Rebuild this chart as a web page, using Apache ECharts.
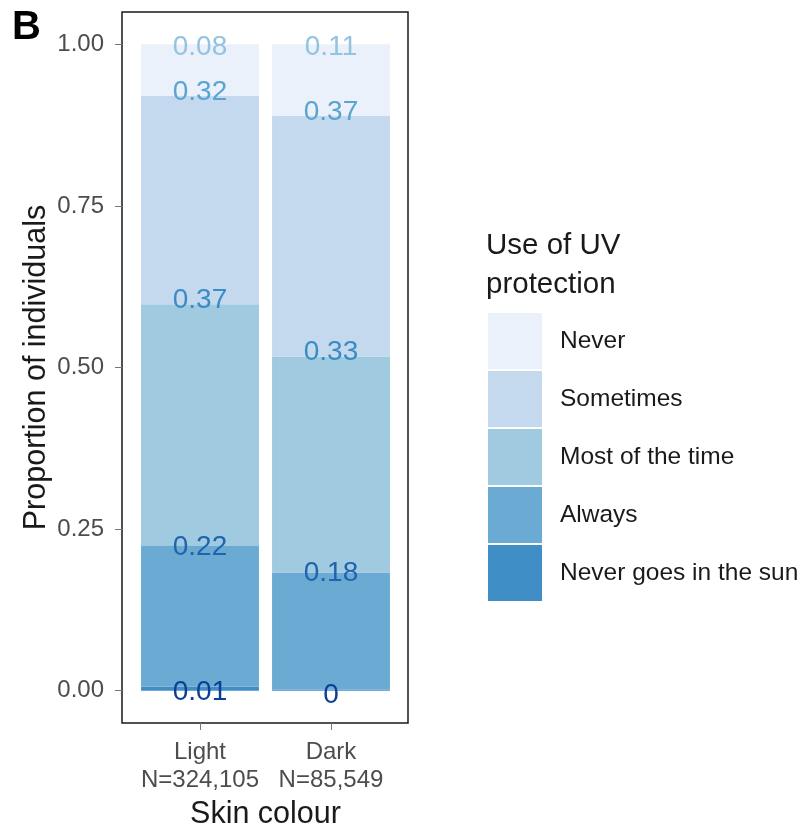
<!DOCTYPE html>
<html>
<head>
<meta charset="utf-8">
<script src="https://cdn.jsdelivr.net/npm/echarts@6/dist/echarts.min.js"></script>
<style>
html,body{margin:0;padding:0;background:#fff;}
#chart{width:801px;height:828px;}
</style>
</head>
<body>
<div id="chart"></div>
<script>
// categories
const categories = ['Light\nN=324,105', 'Dark\nN=85,549'];
// series listed bottom to top of the stack
const seriesNames = ['Never goes in the sun', 'Always', 'Most of the time', 'Sometimes', 'Never'];
const neverGoesInSun = [0.006, 0.002];
const always = [0.218, 0.181];
const mostOfTheTime = [0.374, 0.334];
const sometimes = [0.322, 0.372];
const never = [0.080, 0.111];
const yTicks = [0, 0.25, 0.5, 0.75, 1.0];
const legendOrder = ['Never', 'Sometimes', 'Most of the time', 'Always', 'Never goes in the sun'];

const fillColors = ['#3f8fc6', '#6aaad3', '#9fcae0', '#c5d9ee', '#ebf1fb'];
const labelColors = ['#0b3f93', '#2064ae', '#3a8cc4', '#5ba3d0', '#92c3e0'];
const labelDistance = [-19.5, -15, -10, -10, -16.5];
const values = [neverGoesInSun, always, mostOfTheTime, sometimes, never];

const FONT = '"Liberation Sans", Arial, Helvetica, sans-serif';

const chart = echarts.init(document.getElementById('chart'), null, {renderer: 'canvas'});

const series = seriesNames.map((name, i) => ({
  name: name,
  type: 'bar',
  stack: 'total',
  xAxisIndex: 0,
  yAxisIndex: 0,
  barWidth: '90%',
  itemStyle: {color: fillColors[i]},
  label: {
    show: true,
    position: 'top',
    distance: labelDistance[i],
    fontFamily: FONT,
    fontSize: 28,
    color: labelColors[i],
    formatter: p => String(Math.round(p.value * 100) / 100)
  },
  data: values[i]
}));

chart.setOption({
  animation: false,
  title: [
    {text: 'B', left: 12, top: 8, padding: 0, textStyle: {fontFamily: FONT, fontSize: 40, fontWeight: 'bold', color: '#000'}},
    {text: 'Use of UV\nprotection', left: 486, top: 226, padding: 0, textStyle: {fontFamily: FONT, fontSize: 29.5, fontWeight: 'normal', color: '#1a1a1a', lineHeight: 39}}
  ],
  legend: {
    data: legendOrder,
    orient: 'vertical',
    left: 488,
    top: 313,
    padding: 0,
    itemWidth: 54,
    itemHeight: 56,
    itemGap: 2,
    icon: 'rect',
    textStyle: {fontFamily: FONT, fontSize: 24.5, color: '#1a1a1a', padding: [0, 0, 0, 13]}
  },
  grid: [
    // bars grid (category band centres match the reference)
    {left: 134.5, width: 262, top: 12, bottom: 105, show: false, containLabel: false, outerBoundsMode: 'none'},
    // panel frame grid with the y axis
    {left: 122, right: 393, top: 12, bottom: 105, show: true, borderColor: '#1a1a1a', borderWidth: 1.5, backgroundColor: 'transparent', containLabel: false, outerBoundsMode: 'none'}
  ],
  xAxis: [
    {
      gridIndex: 0,
      type: 'category',
      data: categories,
      boundaryGap: true,
      name: 'Skin colour',
      nameLocation: 'middle',
      nameGap: 72,
      nameTextStyle: {fontFamily: FONT, fontSize: 30.5, color: '#1a1a1a'},
      axisLine: {show: false, onZero: false},
      splitLine: {show: false},
      axisTick: {show: true, alignWithLabel: true, interval: 0, length: 7, lineStyle: {color: '#777'}},
      axisLabel: {interval: 0, hideOverlap: false, fontFamily: FONT, fontSize: 24, lineHeight: 28, color: '#4d4d4d', margin: 15}
    },
    {gridIndex: 1, type: 'category', data: categories, show: false}
  ],
  yAxis: [
    {gridIndex: 0, type: 'value', min: -0.05, max: 1.05, show: false},
    {
      gridIndex: 1,
      type: 'value',
      min: -0.05,
      max: 1.05,
      name: 'Proportion of individuals',
      nameLocation: 'middle',
      nameGap: 70,
      nameRotate: 90,
      nameTextStyle: {fontFamily: FONT, fontSize: 30.5, color: '#1a1a1a'},
      axisLine: {show: false, onZero: false},
      splitLine: {show: false},
      axisTick: {show: true, length: 7, lineStyle: {color: '#777'}, customValues: yTicks},
      axisLabel: {
        customValues: yTicks,
        formatter: v => v.toFixed(2),
        padding: [6, 0, 0, 0],
        fontFamily: FONT, fontSize: 24, color: '#4d4d4d', margin: 18
      }
    }
  ],
  series: series
});
</script>
</body>
</html>
